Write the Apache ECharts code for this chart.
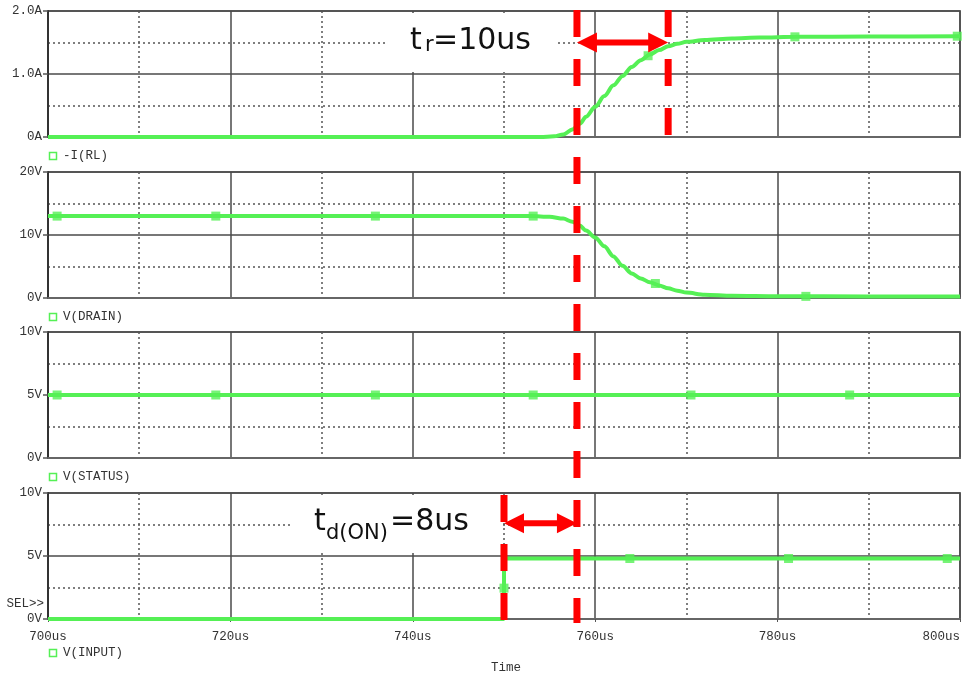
<!DOCTYPE html>
<html>
<head>
<meta charset="utf-8">
<script src="https://cdn.jsdelivr.net/npm/echarts@6/dist/echarts.min.js"></script>
<style>
html, body { margin: 0; padding: 0; background: #fff; }
#chart { width: 963px; height: 682px; }
</style>
</head>
<body>
<div id="chart"></div>
<script>
// ---- time axis (microseconds) ----
const timeMin = 700, timeMax = 800, timeStep = 20;
const timeTickLabels = ['700us', '720us', '740us', '760us', '780us', '800us'];

// ---- y tick labels per panel (one label per major step) ----
const currentTickLabels = ['0A', '1.0A', '2.0A'];
const drainTickLabels = ['0V', '10V', '20V'];
const statusTickLabels = ['0V', '5V', '10V'];
const inputTickLabels = ['0V', '5V', '10V'];

const traceNames = ['-I(RL)', 'V(DRAIN)', 'V(STATUS)', 'V(INPUT)'];

// ---- traces: [time us, value] ----
const currentTrace = [
  [700, 0], [754, 0], [755.5, 0.01], [756.5, 0.04], [757.5, 0.12], [758.3, 0.21],
  [759, 0.32], [760, 0.48], [761, 0.65], [762, 0.82], [763, 0.97], [764, 1.11],
  [765, 1.22], [766, 1.31], [767, 1.38], [768, 1.44], [769, 1.48], [770, 1.51],
  [772, 1.54], [775, 1.565], [778, 1.58], [782, 1.59], [790, 1.595], [800, 1.6]
];
const currentMarkers = [[765.8, 1.29], [781.9, 1.59], [799.7, 1.6]];

const drainTrace = [
  [700, 13], [753, 13], [755, 12.9], [756.5, 12.6], [757.5, 12.1], [758.3, 11.5],
  [759, 10.7], [760, 9.6], [761, 8.2], [762, 6.6], [763, 5.1], [764, 3.9],
  [765, 3.1], [766, 2.5], [767, 2.0], [768, 1.55], [769, 1.15], [770, 0.86],
  [772, 0.52], [775, 0.35], [780, 0.27], [790, 0.25], [800, 0.25]
];
const drainMarkers = [[701, 13], [718.4, 13], [735.9, 13], [753.2, 13], [766.6, 2.3], [783.1, 0.26]];

const statusTrace = [[700, 5], [800, 5]];
const statusMarkers = [[701, 5], [718.4, 5], [735.9, 5], [753.2, 5], [770.5, 5], [787.9, 5]];

const inputTrace = [[700, 0], [750, 0], [750, 4.8], [800, 4.8]];
const inputMarkers = [[750, 2.45], [763.8, 4.8], [781.2, 4.8], [798.6, 4.8]];

// ---- switching-time annotations (us) ----
const inputEdge = 750;
const turnOnDelay = 8;
const riseTime = 10;

// ---- layout & style ----
const TRACE = '#55f055';
const RED = '#ff0000';
const MONO = '"Liberation Mono", "DejaVu Sans Mono", monospace';
const gridTops = [11, 172, 332, 493];
const gridH = 126;
const gridLeft = 48, gridRight = 3;

const panels = [
  { labels: currentTickLabels, step: 1, trace: currentTrace, markers: currentMarkers, smooth: true },
  { labels: drainTickLabels, step: 10, trace: drainTrace, markers: drainMarkers, smooth: true },
  { labels: statusTickLabels, step: 5, trace: statusTrace, markers: statusMarkers, smooth: false },
  { labels: inputTickLabels, step: 5, trace: inputTrace, markers: inputMarkers, smooth: false }
];

const majorLine = { color: '#4a4a4a', width: 1.5 };
const minorLine = { color: '#555', width: 1.5, type: [2, 3] };

const grids = [], xAxes = [], yAxes = [], series = [];
panels.forEach((p, i) => {
  grids.push({
    left: gridLeft, right: gridRight, top: gridTops[i], height: gridH,
    show: true, borderColor: '#777', borderWidth: 2, backgroundColor: 'transparent',
    containLabel: false, outerBoundsMode: 'none'
  });
  const last = i === panels.length - 1;
  xAxes.push({
    gridIndex: i, type: 'value', min: timeMin, max: timeMax, interval: timeStep,
    axisLine: { show: true, onZero: false, lineStyle: { color: '#666', width: 2 } },
    axisTick: { show: last, length: 3, lineStyle: { color: '#555' } },
    axisLabel: {
      show: last, margin: 11, color: '#333', fontFamily: MONO, fontSize: 12.5,
      alignMaxLabel: 'right',
      formatter: v => timeTickLabels[Math.round((v - timeMin) / timeStep)]
    },
    splitLine: { show: true, lineStyle: majorLine },
    minorTick: { show: false, splitNumber: 2 },
    minorSplitLine: { show: true, lineStyle: minorLine }
  });
  yAxes.push({
    gridIndex: i, type: 'value', min: 0, max: p.step * (p.labels.length - 1), interval: p.step,
    axisLine: { show: true, lineStyle: { color: '#333', width: 2 } },
    axisTick: { show: true, length: 5, lineStyle: { color: '#555', width: 1.5 } },
    axisLabel: {
      margin: 6, color: '#333', fontFamily: MONO, fontSize: 12.5,
      formatter: v => p.labels[Math.round(v / p.step)]
    },
    splitLine: { show: true, lineStyle: majorLine },
    minorTick: { show: false, splitNumber: 2 },
    minorSplitLine: { show: true, lineStyle: minorLine }
  });
  series.push({
    type: 'line', xAxisIndex: i, yAxisIndex: i, data: p.trace,
    showSymbol: false, smooth: p.smooth ? 0.3 : false, smoothMonotone: 'x',
    clip: false, z: 3, animation: false,
    lineStyle: { color: TRACE, width: 4 }
  });
  series.push({
    type: 'scatter', xAxisIndex: i, yAxisIndex: i, data: p.markers,
    symbol: 'rect', symbolSize: 9, z: 4, animation: false, silent: true,
    itemStyle: { color: TRACE }
  });
});

const chart = echarts.init(document.getElementById('chart'), null, { renderer: 'canvas' });
chart.setOption({
  animation: false,
  backgroundColor: '#fff',
  grid: grids, xAxis: xAxes, yAxis: yAxes, series: series
});

// ---- overlay: trace names, cursor marks, annotations ----
const px = (gi, t, v) => chart.convertToPixel({ gridIndex: gi }, [t, v]);
const g = [];

traceNames.forEach((name, i) => {
  const bottom = gridTops[i] + gridH;
  const y = i === traceNames.length - 1 ? bottom + 34 : bottom + 19;
  g.push({ type: 'rect', z: 50, shape: { x: 49.5, y: y - 3.5, width: 7, height: 7 },
    style: { fill: 'none', stroke: TRACE, lineWidth: 1.5 } });
  g.push({ type: 'text', z: 50, x: 63, y: y,
    style: { text: name, font: '12.5px ' + MONO, fill: '#333', verticalAlign: 'middle', align: 'left' } });
});
g.push({ type: 'text', z: 50, x: 44, y: 604,
  style: { text: 'SEL>>', font: '12.5px ' + MONO, fill: '#333', verticalAlign: 'middle', align: 'right' } });
g.push({ type: 'text', z: 50, x: 506, y: 668,
  style: { text: 'Time', font: '12.5px ' + MONO, fill: '#333', verticalAlign: 'middle', align: 'center' } });

// white boxes behind the annotation texts
g.push({ type: 'rect', z: 1, shape: { x: 388, y: 13, width: 169, height: 59 }, style: { fill: '#fff' } });
g.push({ type: 'rect', z: 1, shape: { x: 293, y: 495, width: 207, height: 58 }, style: { fill: '#fff' } });

// annotation texts (t with subscript)
const BIG = '30px "DejaVu Sans"';
const SUB = '21px "DejaVu Sans"';
function label(parts) {
  parts.forEach(([x, y, text, font]) => g.push({ type: 'text', z: 60, x: x, y: y,
    style: { text: text, font: font, fill: '#111', verticalAlign: 'middle', align: 'left' } }));
}
label([[410, 41.6, 't', BIG], [425, 46, 'r', SUB], [433, 41.6, '=10us', BIG]]);
label([[314, 522.6, 't', BIG], [326, 533.7, 'd(ON)', SUB], [390, 522.6, '=8us', BIG]]);

// dashed cursor lines
const tOn = inputEdge + turnOnDelay;
const tRiseEnd = tOn + riseTime;
function dashed(x, y1, y2) {
  g.push({ type: 'line', z: 70, shape: { x1: x, y1: y1, x2: x, y2: y2 },
    style: { stroke: RED, lineWidth: 7, lineDash: [27, 22] } });
}
const xEdge = px(3, inputEdge, 0)[0];
const xOn = px(0, tOn, 0)[0];
const xEnd = px(0, tRiseEnd, 0)[0];
dashed(xOn, 10, 623);
dashed(xEnd, 10, 137);
dashed(xEdge, 495, 620);

// double-headed arrows
function arrow(x1, x2, y) {
  const head = 20, half = 10;
  g.push({ type: 'rect', z: 71, shape: { x: x1 + head - 2, y: y - 3, width: (x2 - x1) - 2 * head + 4, height: 6 },
    style: { fill: RED } });
  g.push({ type: 'polygon', z: 71, shape: { points: [[x1, y], [x1 + head, y - half], [x1 + head, y + half]] },
    style: { fill: RED } });
  g.push({ type: 'polygon', z: 71, shape: { points: [[x2, y], [x2 - head, y - half], [x2 - head, y + half]] },
    style: { fill: RED } });
}
arrow(xOn, xEnd, px(0, tOn, 1.5)[1]);
arrow(xEdge, xOn, px(3, tOn, 7.6)[1]);

chart.setOption({ graphic: { elements: g } });
</script>
</body>
</html>
